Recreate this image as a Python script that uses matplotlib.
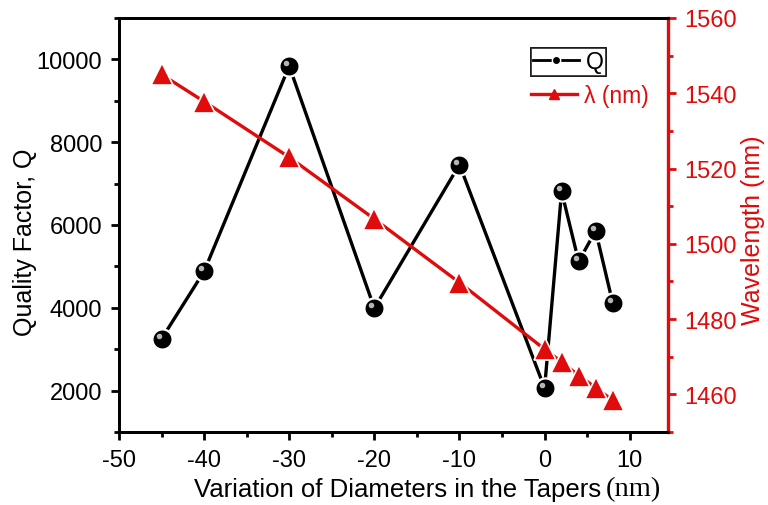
import matplotlib as mpl
mpl.use('Agg')
import matplotlib.pyplot as plt
from matplotlib.lines import Line2D
from matplotlib.ticker import MultipleLocator
from matplotlib.transforms import ScaledTranslation

# data
diam = [-45, -40, -30, -20, -10, 0, 2, 4, 6, 8]
q_factor = [3250, 4880, 9840, 3990, 7460, 2060, 6810, 5120, 5860, 4120]
wavelength = [1545.0, 1537.8, 1523.0, 1506.6, 1489.7, 1472.0, 1468.6, 1465.0, 1461.8, 1458.4]

RED = '#e00b0b'
plt.rcParams['font.family'] = ['Liberation Sans', 'DejaVu Sans']
plt.rcParams['axes.unicode_minus'] = False

fig = plt.figure(figsize=(7.68, 5.06), dpi=100)
ax1 = fig.add_axes([119/768, 1-433/506, (668-119)/768, (433-19)/506])
ax2 = ax1.twinx()

# Q : black "balls"
ax1.plot(diam, q_factor, color='black', lw=2.4, marker='o', ms=14.5,
         mfc='black', mec='white', mew=1.6, zorder=3)
shift = ax1.transData + ScaledTranslation(-2.2/72, 2.2/72, fig.dpi_scale_trans)
ax1.plot(diam, q_factor, ls='none', marker='o', ms=4, mfc='#b5b5b5', mec='none',
         transform=shift, zorder=4)

# wavelength : red triangles
ax2.plot(diam, wavelength, color=RED, lw=2.4, marker='^', ms=16,
         mfc=RED, mec='white', mew=1.2, zorder=3)

ax1.set_xlim(-50, 14.5)
ax1.set_ylim(1000, 11000)
ax2.set_ylim(1450, 1560)

ax1.xaxis.set_major_locator(MultipleLocator(10))
ax1.xaxis.set_minor_locator(MultipleLocator(5))
ax1.yaxis.set_major_locator(MultipleLocator(2000))
ax1.yaxis.set_minor_locator(MultipleLocator(1000))
ax2.yaxis.set_major_locator(MultipleLocator(20))
ax2.yaxis.set_minor_locator(MultipleLocator(10))

for sp in ax1.spines.values():
    sp.set_linewidth(2)
for sp in ax2.spines.values():
    sp.set_linewidth(2)
ax2.spines['right'].set_color(RED)
ax2.spines['right'].set_linewidth(2.4)

ax1.tick_params(axis='both', which='major', direction='out', length=6, width=2,
                labelsize=17, pad=6)
ax1.tick_params(axis='both', which='minor', direction='out', length=3.5, width=2)
ax1.tick_params(top=False, which='both')
ax2.tick_params(axis='y', which='major', direction='out', length=6, width=2,
                labelsize=17, colors=RED, pad=6)
ax2.tick_params(axis='y', which='minor', direction='out', length=3.5, width=2, colors=RED)

fig.text(25/768, 1-242/506, 'Quality Factor, Q', rotation=90, fontsize=18,
         ha='center', va='center')
fig.text(753/768, 1-230/506, 'Wavelength (nm)', rotation=90, fontsize=18,
         ha='center', va='center', color=RED)
fig.text(601/768, 1-490/506, 'Variation of Diameters in the Tapers', fontsize=18.5,
         ha='right', va='center')
fig.text(606/768, 1-490/506, '(nm)', fontsize=20.5, family='Liberation Serif',
         ha='left', va='center')

# legend: Q framed, lambda unframed (as in the original)
h_q = Line2D([], [], color='black', lw=2, marker='o', ms=6, mfc='black', mec='white')
h_l = Line2D([], [], color=RED, lw=2.4, marker='^', ms=7, mfc=RED, mec=RED)
leg1 = ax1.legend([h_q], ['Q'], loc='upper left', bbox_to_anchor=(412/549, 1-30/414),
                  fontsize=16.5, frameon=True, fancybox=False, handlelength=2.0,
                  handletextpad=0.3, borderpad=0.1, borderaxespad=0)
leg1.get_frame().set_edgecolor('black')
leg1.get_frame().set_linewidth(1.2)
ax1.add_artist(leg1)
leg2 = ax2.legend([h_l], ['\u03bb (nm)'], loc='upper left', bbox_to_anchor=(410/549, 1-64/414),
                  fontsize=16.5, frameon=False, handlelength=2.0, handletextpad=0.3,
                  borderpad=0.1, borderaxespad=0)
for t in leg2.get_texts():
    t.set_color(RED)

fig.savefig('out.png', dpi=100)
